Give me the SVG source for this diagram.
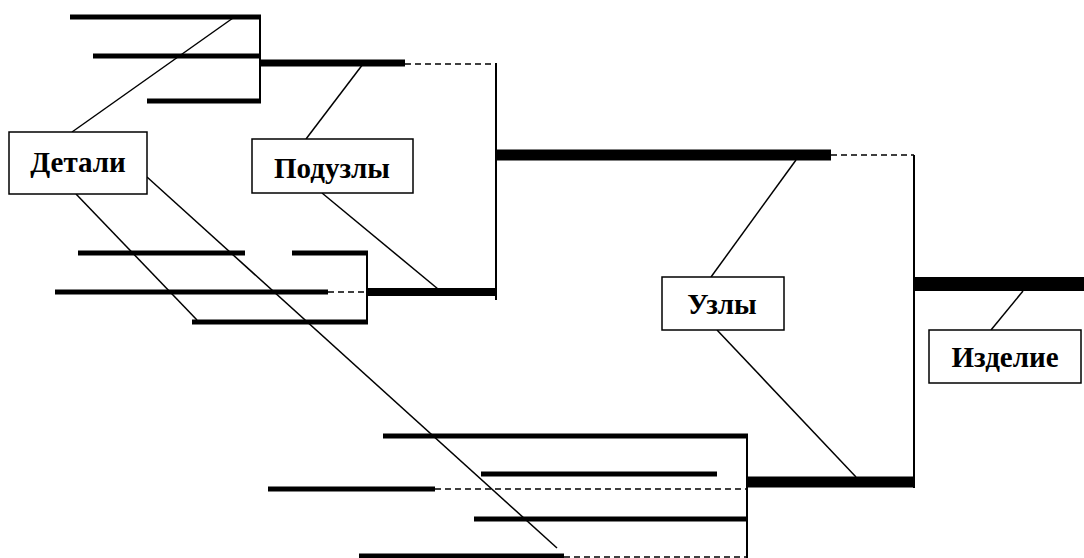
<svg xmlns="http://www.w3.org/2000/svg" width="1084" height="558" viewBox="0 0 1084 558">
<style>
line{stroke:#000;stroke-linecap:butt}
.bar{stroke-width:5}
.thin{stroke-width:1.5}
.vert{stroke-width:2}
.dash{stroke-width:1.5;stroke-dasharray:6 4}
.box{fill:#fff;stroke:#000;stroke-width:1.5}
.lbl{font-family:"Liberation Serif","Times New Roman",serif;font-weight:bold;font-size:29px;text-anchor:middle;fill:#000}
</style>
<rect width="1084" height="558" fill="#fff"/>
<g id="connectors">
<line class="bar" x1="70" y1="17" x2="261" y2="17"/>
<line class="bar" x1="93" y1="56" x2="261" y2="56"/>
<line class="bar" x1="147" y1="101" x2="261" y2="101"/>
<line class="vert" x1="260" y1="15" x2="260" y2="103"/>
<line style="stroke-width:7" x1="260" y1="63" x2="405" y2="63"/>
<line class="dash" x1="405" y1="64" x2="496" y2="64"/>
<line class="vert" x1="496" y1="63" x2="496" y2="300"/>
<line class="bar" x1="78" y1="253" x2="245" y2="253"/>
<line class="bar" x1="292" y1="253" x2="368" y2="253"/>
<line class="bar" x1="55" y1="292" x2="328" y2="292"/>
<line class="dash" x1="328" y1="292" x2="367" y2="292"/>
<line class="bar" x1="192" y1="322" x2="368" y2="322"/>
<line class="vert" x1="367" y1="251" x2="367" y2="324"/>
<line style="stroke-width:8" x1="367" y1="292" x2="497" y2="292"/>
<line style="stroke-width:11" x1="495" y1="155" x2="831" y2="155"/>
<line class="dash" x1="831" y1="155" x2="914" y2="155"/>
<line class="vert" x1="914" y1="155" x2="914" y2="488"/>
<line style="stroke-width:14" x1="914" y1="284" x2="1084" y2="284"/>
<line class="bar" x1="383" y1="436" x2="748" y2="436"/>
<line class="bar" x1="481" y1="474" x2="717" y2="474"/>
<line class="bar" x1="268" y1="489" x2="435" y2="489"/>
<line class="dash" x1="435" y1="489" x2="747" y2="489"/>
<line class="bar" x1="474" y1="519" x2="748" y2="519"/>
<line class="bar" x1="359" y1="556" x2="564" y2="556"/>
<line class="dash" x1="564" y1="557" x2="747" y2="557"/>
<line class="vert" x1="747" y1="434" x2="747" y2="558"/>
<line style="stroke-width:11" x1="747" y1="482" x2="915" y2="482"/>
<line class="thin" x1="72" y1="132" x2="233" y2="18"/>
<line class="thin" x1="306" y1="139" x2="363" y2="64"/>
<line class="thin" x1="76" y1="194" x2="197" y2="320"/>
<line class="thin" x1="147" y1="177" x2="557" y2="548"/>
<line class="thin" x1="322" y1="193" x2="438" y2="289"/>
<line class="thin" x1="796" y1="160" x2="711" y2="277"/>
<line class="thin" x1="717" y1="330" x2="856" y2="477"/>
<line class="thin" x1="1023" y1="291" x2="991" y2="330"/>
</g>
<g id="node-detali">
<rect class="box" x="9" y="132" width="138" height="62"/>
<text class="lbl" x="78" y="172">Детали</text>
</g>
<g id="node-poduzly">
<rect class="box" x="252" y="139" width="161" height="54"/>
<text class="lbl" x="332" y="178">Подузлы</text>
</g>
<g id="node-uzly">
<rect class="box" x="662" y="277" width="122" height="53"/>
<text class="lbl" x="722" y="314">Узлы</text>
</g>
<g id="node-izdelie">
<rect class="box" x="929" y="330" width="152" height="53"/>
<text class="lbl" x="1005" y="367">Изделие</text>
</g>
</svg>
